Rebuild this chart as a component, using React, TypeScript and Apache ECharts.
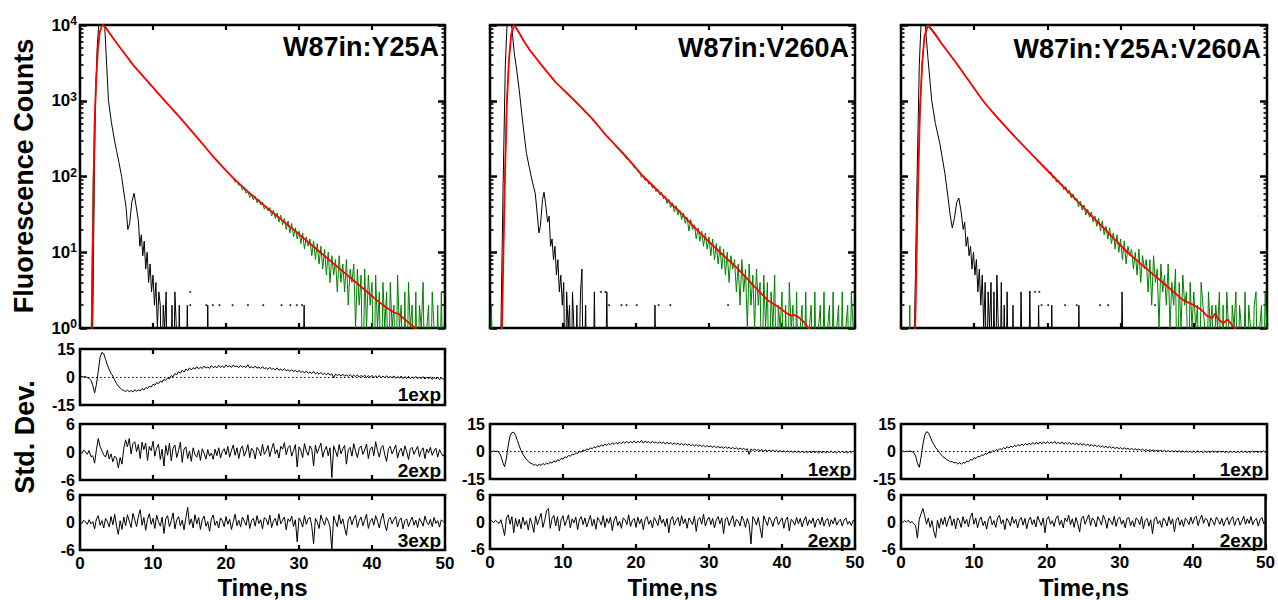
import React, { useEffect, useRef } from "react";
import * as echarts from "echarts";

const FONT = "'Liberation Sans', Arial, sans-serif";
const STEP = 0.25; // sampling step (ns) of the noisy traces
const GREEN_T0 = 12; // first time of the sampled green tail

const LOG_MINOR = [2, 3, 4, 5, 6, 7, 8, 9, 20, 30, 40, 50, 60, 70, 80, 90, 200, 300, 400, 500, 600, 700, 800, 900, 2000, 3000, 4000, 5000, 6000, 7000, 8000, 9000];
const TITLES = ["W87in:Y25A", "W87in:V260A", "W87in:Y25A:V260A"];

// ---------- fitted decays (red) [t, counts] ----------
const fitA = [[1.55, 0.5], [1.7, 3], [1.85, 60], [2.0, 500], [2.2, 1800], [2.45, 4800], [2.7, 8000], [3.0, 9800], [3.15, 10000], [3.5, 9300], [4.5, 6800], [5.5, 5000], [7.3, 2950], [9.5, 1700], [11.9, 930], [14, 556], [16, 331], [18, 195], [19.5, 135], [21, 95], [23, 63], [26, 36], [29.5, 19], [32.9, 10], [36, 5.6], [38.5, 3.5], [40.6, 2.35], [42, 1.85], [43, 1.6], [43.6, 1.55], [44.5, 1.3], [45.9, 1.0], [47, 0.8], [50, 0.8]];
const fitB = [[1.55, 0.5], [1.7, 2], [2.0, 60], [2.3, 900], [2.6, 3500], [2.9, 7500], [3.3, 10000], [3.8, 8500], [4.6, 6200], [5.5, 4600], [7, 3000], [9, 1750], [11.6, 1000], [14, 580], [16, 340], [18.5, 190], [21, 100], [23.5, 58], [26, 34], [28.5, 19], [31.5, 10], [34, 6], [36, 3.7], [38, 2.35], [39.5, 1.9], [40.5, 1.6], [41.2, 1.45], [41.6, 1.5], [42.2, 1.4], [43, 1.2], [43.6, 1.0], [45, 0.8], [50, 0.8]];
const fitC = [[1.85, 0.5], [2.0, 2], [2.3, 60], [2.6, 800], [2.9, 3200], [3.2, 7000], [3.7, 10000], [4.5, 8000], [5.5, 5800], [7.6, 3100], [9.5, 1700], [11.2, 1000], [13, 620], [15.3, 355], [18, 190], [20.8, 100], [23, 61], [25.5, 34], [28, 19.5], [30.9, 10], [33, 6.7], [35.5, 4.2], [38.5, 2.35], [40, 2.0], [41, 1.75], [41.8, 1.45], [42.5, 1.35], [42.9, 1.55], [43.4, 1.3], [44, 1.15], [44.6, 1.3], [45.2, 1.1], [46, 0.9], [47, 0.8], [50, 0.8]];

// ---------- measured decays (green): early part [t, counts] + tail sampled from t=12 ----------
const greenHeadA = [[0, 0], [1.45, 0], [1.6, 4], [1.8, 90], [2.0, 520], [2.2, 1750], [2.45, 4900], [2.7, 7900], [3.0, 9700], [3.5, 9200], [4.5, 6700], [5.5, 5050], [7.3, 2930], [8.5, 2200], [9.5, 1690], [10.5, 1300], [11.5, 1030], [11.75, 960]];
const greenA = [
  925, 862, 795, 772, 700, 688, 615, 598,
  552, 515, 478, 462, 425, 410, 368, 355,
  330, 312, 290, 272, 258, 241, 222, 210,
  199, 180, 170, 163, 150, 143, 136, 124,
  121, 112, 106, 100, 94, 84, 87, 76,
  79, 66, 71, 60, 64, 53, 58, 49,
  55, 45, 50, 42, 46, 37, 41, 35,
  39, 30, 36, 28, 33, 25, 31, 23,
  28, 20, 26, 18, 24, 16, 21, 15,
  19, 13, 18, 11, 16, 12, 15, 9,
  14, 8, 13, 7, 12, 6, 11, 5,
  10, 4, 9, 5, 8, 3, 9, 4,
  7, 3, 8, 2, 6, 4, 7, 1,
  6, 2, 5, 0, 6, 1, 5, 2,
  4, 0, 5, 1, 3, 0, 4, 1,
  3, 0, 4, 1, 2, 0, 5, 1,
  2, 0, 3, 0, 4, 1, 2, 0,
  3, 0, 2, 1, 4, 0, 1, 2,
  0, 3, 1, 0, 2, 0, 3, 0, 1,
];
const greenHeadB = [[0, 0], [0.2, 2], [0.45, 0], [1.55, 0], [1.75, 5], [2.0, 70], [2.3, 950], [2.6, 3400], [2.9, 7600], [3.3, 9900], [3.8, 8400], [4.6, 6300], [5.5, 4500], [7, 3050], [9, 1720], [10.5, 1300], [11.75, 960]];
const greenB = [
  925, 860, 812, 790, 702, 690, 640, 610,
  566, 530, 501, 470, 448, 410, 392, 355,
  342, 330, 301, 282, 274, 246, 235, 221,
  205, 196, 183, 170, 168, 150, 146, 130,
  131, 116, 112, 97, 102, 88, 92, 79,
  84, 70, 76, 63, 68, 57, 62, 51,
  55, 44, 50, 39, 45, 34, 41, 31,
  36, 27, 33, 24, 29, 19, 27, 20,
  23, 15, 21, 14, 19, 12, 18, 11,
  16, 9, 15, 8, 13, 7, 12, 6,
  11, 5, 10, 4, 9, 6, 8, 3,
  7, 2, 8, 3, 6, 1, 7, 2,
  5, 1, 6, 2, 4, 0, 5, 1,
  4, 0, 3, 1, 5, 0, 2, 1,
  3, 0, 2, 0, 4, 1, 2, 0,
  3, 0, 1, 2, 0, 3, 0, 1,
  2, 0, 3, 0, 1, 2, 0, 3,
  0, 1, 2, 0, 3, 0, 1, 2,
  0, 3, 0, 1, 2, 0, 3, 1, 0,
];
const greenHeadC = [[0, 0], [1.1, 0], [1.2, 2], [1.3, 0], [1.85, 0], [2.0, 3], [2.3, 70], [2.6, 820], [2.9, 3100], [3.2, 7100], [3.6, 9800], [4.2, 8400], [5.5, 5700], [7.6, 3050], [9.5, 1720], [11, 1060], [11.75, 860]];
const greenC = [
  820, 768, 712, 690, 630, 602, 560, 531,
  492, 460, 438, 410, 386, 372, 342, 322,
  305, 287, 272, 251, 243, 222, 216, 198,
  192, 178, 172, 155, 155, 138, 140, 124,
  124, 108, 115, 96, 99, 84, 90, 78,
  80, 67, 74, 60, 66, 52, 59, 49,
  52, 40, 47, 36, 42, 31, 37, 29,
  34, 25, 30, 22, 28, 19, 26, 17,
  22, 15, 21, 13, 18, 11, 17, 10,
  15, 8, 14, 7, 12, 9, 11, 6,
  10, 5, 11, 4, 9, 6, 8, 3,
  8, 2, 9, 4, 6, 1, 7, 3,
  5, 2, 7, 1, 4, 2, 6, 0,
  4, 1, 5, 2, 3, 0, 4, 1,
  3, 1, 2, 0, 4, 2, 1, 0,
  3, 1, 2, 0, 2, 1, 3, 0,
  2, 0, 3, 1, 0, 2, 1, 3,
  0, 2, 1, 0, 3, 0, 2, 1,
  0, 2, 3, 0, 1, 2, 0, 3, 1,
];

// ---------- instrument response (black) [t, counts] ----------
const irfA = [[0, 0], [1.6, 0], [1.8, 3], [2.0, 200], [2.15, 1200], [2.35, 5000], [2.6, 11000], [2.9, 15000], [3.2, 13000], [3.4, 9000], [3.65, 3000], [3.9, 1000], [4.3, 520], [4.7, 310], [5.0, 220], [5.3, 160], [5.7, 100], [6.0, 62], [6.3, 40], [6.55, 20], [6.8, 24], [7.1, 46], [7.4, 60], [7.7, 40], [8.0, 26], [8.2, 12], [8.4, 17], [8.6, 9], [8.8, 14], [9.0, 6], [9.2, 10], [9.4, 4], [9.6, 7], [9.8, 3], [10.0, 5], [10.2, 2], [10.4, 4], [10.6, 1], [10.8, 3], [11.0, 2], [11.2, 0], [11.4, 2], [11.6, 1], [11.8, 3], [12.0, 0], [12.2, 1], [12.4, 0], [12.6, 2], [12.8, 0], [13.0, 3], [13.2, 1], [13.4, 0], [13.6, 2], [13.8, 0], [14.5, 0], [14.7, 2], [14.9, 0], [17.3, 0], [17.5, 2], [17.7, 0], [30.5, 0], [30.7, 2], [30.9, 0], [50, 0]];
const irfB = [[0, 0], [1.3, 0], [1.5, 1], [1.8, 80], [2.1, 3000], [2.4, 14000], [2.7, 14000], [3.0, 9000], [3.3, 4500], [3.6, 2800], [4.0, 1400], [4.5, 500], [5.0, 200], [5.4, 130], [5.8, 85], [6.2, 60], [6.5, 30], [6.7, 18], [6.9, 22], [7.2, 50], [7.4, 62], [7.6, 45], [7.9, 25], [8.1, 30], [8.3, 12], [8.5, 15], [8.7, 8], [8.9, 12], [9.1, 5], [9.3, 8], [9.5, 3], [9.7, 5], [9.9, 2], [10.1, 4], [10.3, 0], [10.5, 3], [10.7, 1], [10.9, 2], [11.1, 0], [11.3, 3], [11.5, 1], [11.7, 0], [11.9, 2], [12.1, 0], [12.4, 3], [12.6, 6], [12.8, 0], [13.1, 2], [13.3, 0], [14.1, 0], [14.3, 3], [14.5, 0], [15.8, 0], [16.0, 3], [16.2, 0], [22.4, 0], [22.6, 2], [22.8, 0], [50, 0]];
const irfC = [[0, 0], [1.6, 0], [1.9, 2], [2.2, 100], [2.5, 3000], [2.8, 14000], [3.1, 15000], [3.35, 9000], [3.7, 3500], [4.2, 1000], [4.7, 500], [5.3, 275], [6.0, 110], [6.4, 55], [6.7, 32], [7.0, 21], [7.3, 28], [7.6, 45], [7.9, 52], [8.2, 35], [8.5, 20], [8.7, 25], [8.9, 12], [9.1, 16], [9.3, 9], [9.5, 12], [9.7, 6], [9.9, 10], [10.1, 5], [10.3, 8], [10.5, 3], [10.7, 6], [10.9, 2], [11.1, 5], [11.3, 1], [11.5, 4], [11.7, 0], [11.9, 3], [12.1, 1], [12.3, 4], [12.5, 0], [12.7, 3], [12.9, 0], [13.1, 5], [13.3, 1], [13.5, 0], [13.7, 4], [13.9, 0], [14.1, 2], [14.3, 0], [14.5, 3], [14.7, 0], [15.1, 0], [15.3, 2], [15.5, 0], [16.2, 0], [16.4, 3], [16.6, 0], [17.4, 0], [17.6, 3], [17.8, 0], [18.6, 0], [18.8, 2], [19.0, 0], [20.4, 0], [20.6, 2], [20.8, 0], [24.1, 0], [24.3, 2], [24.5, 0], [30.0, 0], [30.2, 3], [30.4, 0], [50, 0]];
const irfDotsA = [[15.1, 2], [15.1, 3], [17.3, 2], [18.2, 2], [19.1, 2], [20.9, 2], [23.0, 2], [25.1, 2], [27.6, 2], [28.8, 2], [29.7, 2], [30.4, 2]];
const irfDotsB = [[15.2, 3], [15.8, 3], [16.3, 2], [18.0, 2], [18.7, 2], [20.1, 2], [23.1, 2], [24.7, 2], [32.6, 2]];
const irfDotsC = [[17.6, 3], [18.3, 3], [18.9, 3], [19.2, 2], [20.1, 2], [22.4, 2], [24.0, 2], [27.2, 2], [28.3, 2], [34.7, 2]];

// ---------- weighted residuals, sampled every 0.25 ns from t=0 ----------
const res1A = [
  0.0, 0.3, 0.1, 0.2, -0.3, -0.8, -1.8, -4.5,
  -8.5, -4.0, 3.0, 10.5, 13.2, 12.5, 9.5, 6.5,
  4.0, 2.0, 0.5, -1.5, -3.5, -5.0, -5.8, -6.8,
  -7.2, -7.8, -7.0, -7.9, -7.2, -8.0, -6.8, -7.6,
  -6.9, -7.5, -6.2, -7.0, -5.6, -6.2, -4.9, -5.4,
  -3.9, -4.4, -3.0, -3.6, -2.2, -2.8, -1.2, -1.9,
  -0.4, -1.0, 0.8, 0.1, 1.9, 1.2, 2.9, 2.0,
  3.6, 2.6, 4.3, 3.4, 4.9, 3.8, 5.0, 4.2,
  5.5, 4.4, 5.2, 4.6, 5.9, 4.8, 5.4, 4.6,
  6.1, 5.0, 5.7, 4.9, 6.3, 5.2, 5.8, 5.0,
  6.5, 5.4, 6.0, 5.1, 6.4, 5.5, 5.9, 5.0,
  6.2, 5.2, 5.8, 5.1, 6.6, 4.9, 5.5, 4.8,
  5.9, 4.7, 5.3, 4.5, 5.6, 4.4, 5.0, 4.1,
  5.2, 4.0, 4.6, 3.8, 4.9, 3.6, 4.3, 3.4,
  4.5, 3.3, 3.9, 3.0, 4.0, 2.9, 3.5, 2.6,
  3.6, 2.4, 3.1, 2.2, 3.2, 2.0, 2.7, 1.9,
  2.9, 1.7, 2.4, 1.5, 2.5, 1.3, 2.0, 1.2,
  2.1, 0.9, 1.8, -0.5, 1.6, 0.8, 1.4, 0.5,
  1.5, 0.4, 1.2, 0.3, 1.3, 0.1, 1.0, 0.2,
  1.1, -0.1, 0.9, 0.0, 1.0, -0.3, 0.8, -0.2,
  0.9, -0.4, 0.6, -0.3, 0.8, -0.5, 0.5, -0.4,
  0.7, -0.6, 0.4, -0.5, 0.6, -0.7, 0.3, -0.6,
  0.5, -0.8, 0.2, -0.7, 0.4, -0.9, 0.1, -0.8,
  0.3, -1.0, 0.0, -0.9, 0.2, -1.1, -0.1, -1.0,
  0.1, -1.3, -0.2, -1.1, 0.0, -1.5, -0.4, -1.2,
  -0.6,
];
const res2A = [
  0.2, -0.3, 0.4, 0.1, -0.5, 0.3, -1.0, -0.8,
  -2.4, 0.5, 2.9, 1.2, 0.3, -0.6, -1.1, 0.4,
  -1.5, -0.4, -2.1, -0.9, -1.3, -3.4, -1.2, -2.6,
  0.8, 2.6, 1.1, 2.9, -0.4, 1.8, 2.2, 0.1,
  1.6, -1.4, 2.1, 0.5, 1.9, -1.8, 1.2, 0.3,
  2.3, -0.9, 0.8, 1.7, -1.6, 0.6, -3.0, 1.4,
  -0.7, 1.9, -1.9, 0.8, 1.5, -1.2, 0.3, 2.1,
  -2.2, 0.6, 1.1, -1.4, 0.2, -2.0, 0.9, -0.6,
  -1.1, 0.4, -1.8, 0.7, -0.3, -1.5, 0.5, -0.9,
  -0.2, -1.6, 0.6, -0.8, 0.9, -1.3, 0.1, 0.7,
  -0.6, 1.2, -1.1, 0.4, 1.5, -0.7, 0.9, -1.4,
  0.6, 1.3, -0.9, 0.2, 1.6, -1.2, 0.8, 0.3,
  -1.5, 1.0, 0.4, -0.8, 1.7, -0.5, 0.2, 1.4,
  -1.0, 0.7, 1.9, -0.4, 0.5, -1.3, 1.2, 0.6,
  2.0, -0.6, 0.9, 1.4, -0.9, 0.3, 1.6, -3.2,
  1.1, 0.4, -1.2, 1.8, 0.2, -0.7, 1.3, 0.6,
  -3.0, 1.5, -0.3, 0.8, 1.9, -1.1, 0.4, 1.2,
  -0.8, 0.9, -5.5, 1.3, 0.2, -1.0, 1.6, -0.4,
  0.7, 1.4, -2.6, 0.5, 1.0, -0.9, 1.8, 0.1,
  -1.2, 0.8, 1.3, -0.5, 0.4, 1.7, -1.4, 0.6,
  1.1, -0.8, 2.2, 0.3, -1.1, 0.9, 1.4, -0.6,
  -2.0, 0.7, 1.2, -0.4, 0.5, 1.5, -1.3, 0.2,
  0.8, -0.9, 1.3, 0.1, -1.6, 0.6, 1.0, -0.5,
  0.4, 1.2, -1.0, 0.3, 0.9, -1.4, 0.6, -0.2,
  1.0, -0.7, 0.2, 0.8, -1.1, 0.5, -0.3, -0.9,
  -0.2,
];
const res3A = [
  0.3, -0.2, 0.5, 0.1, -0.4, 0.6, -0.3, 0.2,
  -1.4, 0.8, 1.5, -0.6, 0.4, -1.2, 0.9, 0.2,
  -1.0, 1.3, -0.5, 1.8, -0.8, -2.6, 0.4, -1.5,
  1.2, -0.7, 1.7, 0.3, -1.1, 2.0, 0.6, -0.9,
  1.4, 2.8, -0.6, 1.1, -1.7, 0.7, 1.9, -0.4,
  0.9, -1.3, 1.6, 0.2, -0.8, 1.2, -2.4, 0.8,
  1.5, -0.9, 0.4, 2.1, -1.4, 0.6, 1.3, -0.7,
  0.5, -1.6, 1.0, 3.3, -0.5, 0.8, -1.2, 1.7,
  -0.3, 1.1, -1.5, 0.6, 1.4, -0.8, 0.2, -1.9,
  0.9, 1.6, -0.6, 0.3, -1.2, 1.0, 0.4, -0.9,
  1.3, -0.4, 0.7, -1.5, 0.2, 1.8, -0.7, 0.5,
  -1.0, 1.2, 0.3, -0.6, 1.7, -1.3, 0.4, 0.9,
  -0.8, 1.5, -0.2, 0.6, -1.4, 1.1, 0.7, -0.5,
  1.6, -1.1, 0.3, 0.9, -0.7, 1.9, -0.3, 0.5,
  1.2, -1.6, 0.8, 0.2, 1.4, -0.9, 0.6, -4.2,
  1.0, 0.3, -1.0, 1.5, -0.4, 0.7, 1.2, -0.8,
  -4.6, 0.9, 0.1, -1.3, 1.6, 0.4, -0.6, 1.1,
  0.3, -1.0, -6.0, 1.4, 0.2, -0.9, 1.7, -0.3,
  0.8, -1.2, -2.8, 0.6, 1.3, -0.5, 0.9, 1.6,
  -1.1, 0.4, 1.2, -0.7, 0.5, 1.8, -1.3, 0.2,
  0.9, -0.6, 1.5, 0.3, -1.2, 0.8, 2.0, -0.4,
  -1.8, 0.6, 1.1, -0.3, 0.7, 1.3, -1.0, 0.5,
  1.0, -1.4, 0.4, 0.8, -0.9, 0.3, 1.2, -0.6,
  0.5, -1.1, 0.9, 0.2, -0.8, 1.4, 0.1, -0.5,
  0.7, -0.9, 1.1, -0.2, 0.4, -1.0, 0.6, 0.2,
  -0.1,
];
const res1B = [
  0.2, -0.1, 0.3, 0.0, 0.2, -0.5, -2.5, -6.0,
  -8.3, -3.5, 3.5, 8.5, 10.3, 10.5, 8.8, 6.0,
  3.2, 0.5, -1.5, -3.0, -4.4, -5.2, -6.3, -6.6,
  -7.5, -7.0, -7.9, -6.8, -7.6, -6.5, -7.3, -6.2,
  -6.9, -5.7, -6.4, -5.1, -5.8, -4.5, -5.0, -3.7,
  -4.2, -2.9, -3.4, -2.1, -2.6, -1.4, -1.8, -0.7,
  -1.2, 0.1, -0.4, 0.8, 0.3, 1.4, 0.9, 2.0,
  1.5, 2.6, 2.0, 3.1, 2.5, 3.6, 2.9, 4.0,
  3.3, 4.4, 3.6, 4.7, 3.9, 4.9, 4.1, 5.2,
  4.2, 5.4, 4.4, 5.6, 4.5, 5.5, 4.6, 5.8,
  4.7, 5.6, 4.8, 6.1, 4.6, 5.7, 4.9, 5.5,
  4.5, 5.6, 4.6, 5.3, 4.3, 5.4, 4.4, 5.2,
  4.1, 5.0, 4.2, 4.9, 3.9, 4.8, 3.8, 4.6,
  3.6, 4.5, 3.4, 4.3, 3.3, 4.1, 3.1, 3.9,
  3.0, 3.8, 2.8, 3.6, 2.7, 3.4, 2.5, 3.3,
  2.4, 3.1, 2.3, 2.9, 2.1, 2.8, 2.0, 2.6,
  1.8, 2.5, 1.7, 2.3, 1.5, 2.2, 1.4, 2.0,
  1.2, 1.9, 1.1, 1.7, 0.9, 1.5, -1.6, 1.4,
  0.6, 1.3, 0.5, 1.1, 0.3, 1.0, 0.2, 0.9,
  0.1, 0.8, 0.0, 0.7, -0.1, 0.6, -0.2, 0.5,
  -0.3, 0.5, -0.4, 0.4, -0.4, 0.3, -0.5, 0.3,
  -0.5, 0.2, -0.6, 0.2, -0.6, 0.1, -0.7, 0.1,
  -0.7, 0.2, -0.6, 0.1, -0.8, 0.0, -0.7, 0.1,
  -0.8, 0.0, -0.6, 0.2, -0.7, 0.0, -0.8, 0.1,
  -0.6, 0.2, -0.7, 0.0, -0.8, 0.1, -0.6, 0.2,
  -0.4,
];
const res2B = [
  0.1, 0.3, -0.2, 0.4, 0.0, -0.3, 0.5, -1.2,
  -3.0, 0.9, 1.6, -0.5, 1.2, -2.4, 0.8, -1.0,
  0.6, -1.5, 1.1, -0.7, 0.3, -1.8, 0.9, -0.4,
  -2.3, 1.3, -0.6, 0.7, 1.9, -1.2, 0.4, 2.6,
  3.0, -1.4, 0.8, 1.5, -0.9, 1.2, -2.0, 0.5,
  1.4, -0.8, 0.3, 1.6, -1.3, 0.7, -0.2, 1.1,
  -1.7, 0.5, 1.2, -0.6, 0.9, -1.1, 0.2, 1.5,
  -0.9, 0.6, -1.6, 1.0, 0.3, -0.7, 1.4, -1.2,
  0.8, -0.3, 1.1, -1.9, 0.4, 1.3, -0.8, 0.2,
  -1.4, 0.9, 0.5, -0.6, 1.6, -1.0, 0.3, 0.8,
  -1.2, 1.1, -0.4, 0.7, -1.7, 0.6, 1.2, -0.5,
  0.4, -1.3, 1.0, 0.2, -0.8, 1.5, -0.3, 0.6,
  -1.0, 0.8, -2.4, 0.5, 1.2, -0.7, 0.3, 1.0,
  -0.9, 1.4, -0.4, 0.7, -1.4, 0.9, 0.2, -0.6,
  1.3, -2.1, 0.6, 1.0, -0.5, 1.7, -0.9, 0.4,
  1.1, -0.6, 0.8, -1.3, 0.5, 1.2, -0.4, 0.9,
  -2.6, 0.7, 1.0, -0.8, 0.3, 1.4, -1.1, 0.6,
  0.2, -0.9, 1.3, 0.4, -1.2, 0.8, -0.5, -4.9,
  1.2, 0.5, -0.7, 1.0, -1.3, -3.5, 1.4, 0.3,
  -0.8, 1.1, 0.4, -1.0, 0.7, 1.2, -0.6, 0.2,
  0.9, -1.4, 0.5, 1.1, -2.0, 0.6, 0.2, -0.7,
  1.0, -0.4, 0.8, -1.1, 0.3, 1.2, -0.8, 0.5,
  -0.3, 0.9, -1.2, 0.4, 0.7, -0.6, 1.1, -0.9,
  0.3, 0.8, -1.0, 0.5, -0.4, 1.0, -0.7, 0.2,
  0.6, -0.9, 0.4, 0.9, -0.5, 0.2, -0.8, 0.4,
  0.0,
];
const res1C = [
  0.1, 0.3, -0.2, 0.2, 0.0, 0.3, -0.1, -0.6,
  -2.5, -6.5, -8.6, -3.0, 4.0, 9.0, 10.8, 10.2,
  8.0, 5.5, 3.8, 2.0, 0.8, -0.6, -1.8, -2.9,
  -3.6, -4.5, -4.9, -5.6, -5.5, -6.3, -5.9, -6.8,
  -6.1, -6.9, -5.9, -6.4, -5.2, -5.6, -4.3, -4.7,
  -3.4, -3.8, -2.6, -3.0, -1.8, -2.2, -1.0, -1.5,
  -0.3, -0.8, 0.4, -0.1, 1.0, 0.5, 1.6, 1.0,
  2.1, 1.5, 2.6, 1.9, 3.0, 2.3, 3.4, 2.7,
  3.8, 3.0, 4.1, 3.3, 4.4, 3.5, 4.6, 3.7,
  4.9, 3.9, 5.1, 4.0, 5.2, 4.1, 5.3, 4.2,
  5.4, 4.3, 5.2, 4.4, 5.5, 4.2, 5.1, 4.1,
  5.3, 4.0, 4.9, 4.0, 5.0, 3.8, 4.7, 3.7,
  4.6, 3.5, 4.4, 3.4, 4.3, 3.2, 4.1, 3.0,
  3.8, 2.8, 3.6, 2.6, 3.3, 2.4, 3.1, 2.2,
  2.9, 2.0, 2.7, 1.8, 2.5, 1.6, 2.3, 1.5,
  2.1, 1.3, 2.0, 1.2, 1.8, 1.0, 1.7, 0.9,
  1.5, 0.8, 1.4, 0.6, 1.3, 0.5, 1.1, 0.4,
  1.0, 0.3, 0.9, 0.2, 0.8, 0.1, 0.7, 0.0,
  0.6, -0.1, 0.5, -0.2, 0.5, -0.2, 0.4, -0.3,
  0.4, -0.3, 0.3, -0.4, 0.3, -0.4, 0.2, -0.5,
  0.2, -0.5, 0.3, -0.4, 0.2, -0.6, 0.3, -0.5,
  0.1, -0.6, 0.4, -0.5, 0.2, -0.7, 0.3, -0.4,
  0.2, -0.6, 0.1, -0.7, 0.3, -0.5, 0.2, -0.6,
  0.1, -0.7, 0.3, -0.5, 0.2, -0.6, 0.1, -0.7,
  0.3, -0.5, 0.2, -0.6, 0.1, -0.5, 0.3, -0.4,
  0.0,
];
const res2C = [
  0.2, -0.1, 0.3, 0.0, 0.4, -0.2, 0.1, -0.4,
  -0.8, -3.6, 0.6, 1.8, 3.0, 1.4, -0.5, 0.9,
  -1.2, 0.3, -2.1, -3.5, 0.4, -1.4, 0.8, -0.6,
  1.1, -1.0, 0.5, 1.4, -0.8, 0.7, -1.5, 0.9,
  0.3, -1.2, 1.2, -0.4, 0.6, -1.1, 1.0, 2.0,
  -0.5, 0.9, -1.3, 0.4, 1.1, -0.8, 0.2, -1.6,
  0.7, 1.3, -0.6, 0.3, -1.2, 0.9, 1.5, -0.4,
  0.5, -1.7, 0.8, 0.2, -0.9, 1.2, -0.3, 0.6,
  -1.3, 0.4, 1.0, -0.7, 0.8, -1.5, 0.3, 1.1,
  -0.6, 0.5, -1.1, 1.3, 0.2, -0.8, 0.9, -2.4,
  0.6, 1.2, -0.5, 0.3, -1.0, 0.8, 1.4, -0.7,
  0.4, -1.3, 0.9, 0.1, 1.5, -0.6, 0.7, -1.2,
  1.0, -0.4, -2.2, 0.8, 1.3, -0.5, 0.6, 1.6,
  -0.8, 0.9, 0.3, -1.1, 1.2, 0.4, -0.7, 1.5,
  0.5, -1.4, 0.9, 0.2, -0.6, 1.3, -1.0, 0.7,
  1.1, -0.5, 0.4, -1.3, 0.8, 1.0, -0.8, 0.3,
  -1.1, 0.9, 0.5, -0.6, 1.2, -1.5, 0.4, 0.8,
  -0.9, 0.5, -2.6, 0.7, 1.1, -0.4, 0.3, -1.2,
  0.9, 0.2, -0.9, 1.2, -0.5, 0.7, -2.2, 0.4,
  1.0, -0.7, 0.5, -1.0, 0.8, 0.3, -0.6, 1.1,
  -0.4, 0.9, 1.3, -0.8, 0.6, 1.5, -0.3, 0.8,
  0.5, -1.0, 0.9, 0.2, -0.7, 1.1, 0.4, -0.5,
  0.8, -0.9, 0.3, 1.0, -0.6, 0.5, 1.2, -0.8,
  0.4, 0.9, -0.7, 0.2, 1.3, -0.5, 0.7, -0.3,
  1.2, -0.6, 0.4, 0.8, -0.9, 0.5, 1.0, -0.4,
  0.1,
];

// ---------- layout (pixels) ----------
const COLS = [
  { left: 80, width: 365 },
  { left: 490, width: 365 },
  { left: 901, width: 366 },
];
const TOP = { top: 25, height: 303 };

const bold = { fontWeight: "bold" as const, fontFamily: FONT, color: "#000" };

function buildOption() {
  const grid: any[] = [];
  const xAxis: any[] = [];
  const yAxis: any[] = [];
  const series: any[] = [];
  const graphic: any[] = [];

  const addGrid = (left: number, top: number, width: number, height: number) => {
    grid.push({ left, top, width, height, show: true, borderColor: "#000", borderWidth: 2.5, backgroundColor: "transparent" });
    return grid.length - 1;
  };
  const addX = (gi: number, labels: boolean) => {
    const base = {
      type: "value", gridIndex: gi, min: 0, max: 50, interval: 10,
      axisLine: { show: false, onZero: false }, splitLine: { show: false },
      axisTick: { inside: true, length: 5, lineStyle: { width: 2.2, color: "#000" } },
    };
    xAxis.push({ ...base, position: "bottom", axisLabel: labels ? { ...bold, fontSize: 17, margin: 5 } : { show: false } });
    const xi = xAxis.length - 1;
    xAxis.push({ ...base, position: "top", axisLabel: { show: false } });
    return xi;
  };
  const addLogY = (gi: number, labels: boolean) => {
    const common = {
      type: "log", logBase: 10, gridIndex: gi, min: 1, max: 10000,
      axisLine: { show: false, onZero: false }, splitLine: { show: false },
    };
    const major = { inside: true, length: 7, lineStyle: { width: 2.5, color: "#000" } };
    const minor = { inside: true, length: 3.5, lineStyle: { width: 1.6, color: "#000" }, customValues: LOG_MINOR };
    yAxis.push({
      ...common, position: "left", axisTick: major,
      axisLabel: labels
        ? {
            margin: 3,
            formatter: (v: number) => `{a|10}{b|${Math.round(Math.log10(v))}}`,
            rich: {
              a: { ...bold, fontSize: 17 },
              b: { ...bold, fontSize: 12, verticalAlign: "top", padding: [0, 0, 8, 0] },
            },
          }
        : { show: false },
    });
    const yi = yAxis.length - 1;
    yAxis.push({ ...common, position: "right", axisTick: major, axisLabel: { show: false } });
    yAxis.push({ ...common, position: "left", axisTick: minor, axisLabel: { show: false } });
    yAxis.push({ ...common, position: "right", axisTick: minor, axisLabel: { show: false } });
    return yi;
  };
  const addResY = (gi: number, lim: number, dotted: boolean) => {
    yAxis.push({
      type: "value", gridIndex: gi, min: -lim, max: lim, interval: lim, position: "left",
      axisLine: { show: false, onZero: false }, axisTick: { show: false },
      splitLine: { show: dotted, lineStyle: { type: [1.5, 2.5], color: "#000", width: 1.2 } },
      axisLabel: { ...bold, fontSize: 16, margin: 5 },
    });
    return yAxis.length - 1;
  };
  const toLog = (pts: number[][]) => pts.map(([t, v]) => [t, v > 0 ? v : 0.1]);

  const tops = [
    { fit: fitA, head: greenHeadA, tail: greenA, irf: irfA, dots: irfDotsA },
    { fit: fitB, head: greenHeadB, tail: greenB, irf: irfB, dots: irfDotsB },
    { fit: fitC, head: greenHeadC, tail: greenC, irf: irfC, dots: irfDotsC },
  ];
  tops.forEach((p, c) => {
    const gi = addGrid(COLS[c].left, TOP.top, COLS[c].width, TOP.height);
    const xi = addX(gi, false);
    const yi = addLogY(gi, c === 0);
    const common = { type: "line", xAxisIndex: xi, yAxisIndex: yi, showSymbol: false, symbol: "none", silent: true, clip: true };
    series.push({ ...common, data: toLog(p.irf), lineStyle: { color: "#000", width: 1 }, z: 2 });
    series.push({ type: "scatter", xAxisIndex: xi, yAxisIndex: yi, data: p.dots, symbolSize: 2, itemStyle: { color: "#000" }, silent: true, z: 2 });
    const green = toLog([...p.head, ...p.tail.map((v, i) => [GREEN_T0 + i * STEP, v])]);
    series.push({ ...common, data: green, lineStyle: { color: "#008000", width: 1 }, z: 3 });
    series.push({ ...common, data: toLog(p.fit), lineStyle: { color: "#ff0000", width: 1.8 }, z: 4 });
  });

  const resPanels = [
    { col: 0, top: 349, height: 56, lim: 15, data: res1A, label: "1exp", labelY: 394, bottomAxis: false },
    { col: 0, top: 424, height: 56, lim: 6, data: res2A, label: "2exp", labelY: 470, bottomAxis: false },
    { col: 0, top: 495, height: 55, lim: 6, data: res3A, label: "3exp", labelY: 540, bottomAxis: true },
    { col: 1, top: 424, height: 55, lim: 15, data: res1B, label: "1exp", labelY: 469, bottomAxis: false },
    { col: 1, top: 495, height: 54, lim: 6, data: res2B, label: "2exp", labelY: 540, bottomAxis: true },
    { col: 2, top: 424, height: 55, lim: 15, data: res1C, label: "1exp", labelY: 469, bottomAxis: false },
    { col: 2, top: 495, height: 54, lim: 6, data: res2C, label: "2exp", labelY: 540, bottomAxis: true },
  ];
  resPanels.forEach((r) => {
    const gi = addGrid(COLS[r.col].left, r.top, COLS[r.col].width, r.height);
    const xi = addX(gi, r.bottomAxis);
    const yi = addResY(gi, r.lim, r.lim === 15);
    series.push({
      type: "line", xAxisIndex: xi, yAxisIndex: yi, showSymbol: false, symbol: "none", silent: true, clip: true,
      data: r.data.map((v, i) => [i * STEP, v]), lineStyle: { color: "#000", width: 1 },
    });
    graphic.push({
      type: "text", x: COLS[r.col].left + COLS[r.col].width - 4, y: r.labelY, z: 100,
      style: { text: r.label, fontSize: 19, fontWeight: "bold", fontFamily: FONT, fill: "#000", align: "right", verticalAlign: "middle" },
    });
  });

  const titleY = [47, 48, 49];
  TITLES.forEach((t, c) => {
    graphic.push({
      type: "text", x: COLS[c].left + COLS[c].width - 6, y: titleY[c], z: 100,
      style: { text: t, fontSize: 27, fontWeight: "bold", fontFamily: FONT, fill: "#000", align: "right", verticalAlign: "middle" },
    });
    graphic.push({
      type: "text", x: COLS[c].left + COLS[c].width / 2, y: 587, z: 100,
      style: { text: "Time,ns", fontSize: 24, fontWeight: "bold", fontFamily: FONT, fill: "#000", align: "center", verticalAlign: "middle" },
    });
  });
  graphic.push({
    type: "text", x: 24, y: 176, rotation: Math.PI / 2, z: 100,
    style: { text: "Fluorescence Counts", fontSize: 27, fontWeight: "bold", fontFamily: FONT, fill: "#000", align: "center", verticalAlign: "middle" },
  });
  graphic.push({
    type: "text", x: 25, y: 437, rotation: Math.PI / 2, z: 100,
    style: { text: "Std. Dev.", fontSize: 27, fontWeight: "bold", fontFamily: FONT, fill: "#000", align: "center", verticalAlign: "middle" },
  });

  return {
    animation: false,
    backgroundColor: "#fff",
    textStyle: { fontFamily: FONT },
    grid, xAxis, yAxis, series, graphic,
  };
}

export default function App() {
  const ref = useRef<HTMLDivElement>(null);
  useEffect(() => {
    if (!ref.current) return;
    const chart = echarts.init(ref.current, undefined, { renderer: "svg" });
    chart.setOption(buildOption() as any);
    return () => chart.dispose();
  }, []);
  return <div ref={ref} style={{ position: "fixed", left: 0, top: 0, width: 1278, height: 600, background: "#fff" }} />;
}
